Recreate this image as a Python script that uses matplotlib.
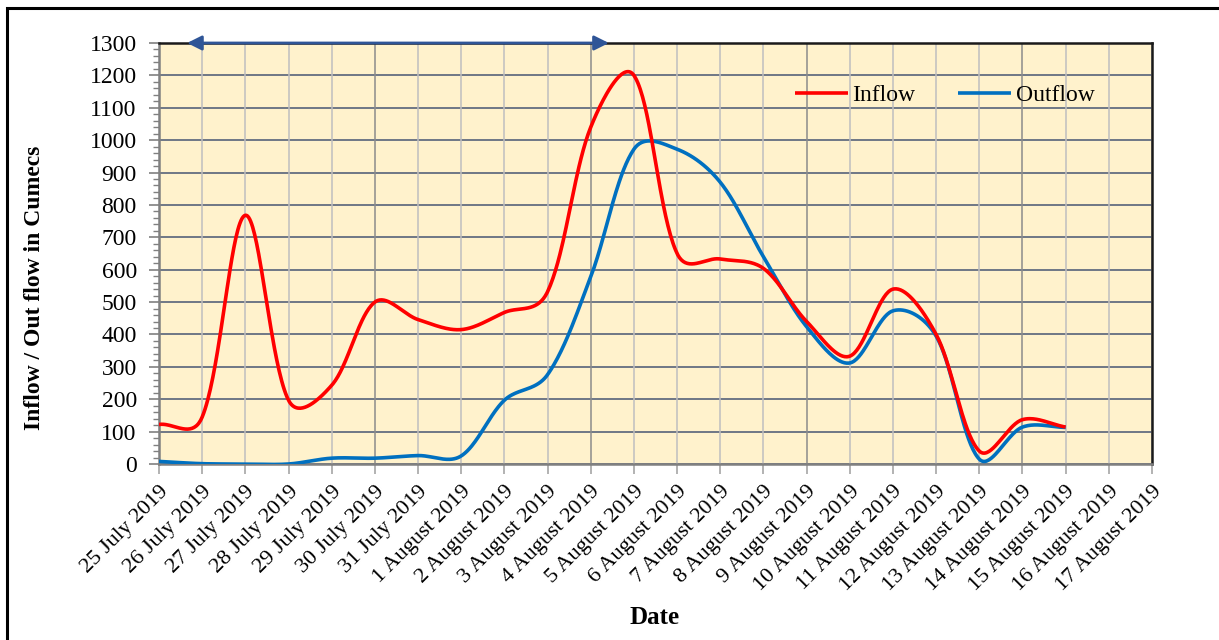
import numpy as np
import pandas as pd
import matplotlib
matplotlib.use('Agg')
import matplotlib.pyplot as plt
import matplotlib.dates as mdates
from matplotlib.ticker import MultipleLocator
from matplotlib.patches import Rectangle

plt.rcParams['font.family'] = ['Liberation Serif', 'DejaVu Serif']

# Data (daily values)
dates = pd.date_range('2019-07-25', '2019-08-15', freq='D')
inflow = [122, 145, 768, 197, 243, 500, 446, 415, 468, 532, 1040,
          1200, 650, 633, 604, 440, 333, 540, 400, 40, 137, 114]
outflow = [8, 1, 0, 0, 18, 18, 26, 25, 197, 276, 578,
           972, 972, 870, 640, 424, 312, 473, 395, 15, 114, 113]
tick_dates = pd.date_range('2019-07-25', '2019-08-17', freq='D')
tick_labels = [f'{d.day} {d:%B %Y}' for d in tick_dates]

# pixel size of one day / one cumec, used so the smoothing looks like Excel's
PX_DAY, PX_VAL = 43.17, 0.324


def smooth(vals, n=40, blend=0.5):
    # Excel-like smoothed line: Bezier segments; handles are a mix of
    # plain Catmull-Rom and chord-length scaled handles
    P = np.column_stack([np.arange(len(vals)) * PX_DAY,
                         np.asarray(vals, float) * PX_VAL])
    k = len(P)
    cin = P.copy()
    cout = P.copy()
    for i in range(k):
        if i == 0:
            cout[i] = P[0] + (P[1] - P[0]) / 3
            continue
        if i == k - 1:
            cin[i] = P[i] - (P[i] - P[i - 1]) / 3
            continue
        d = P[i + 1] - P[i - 1]
        l1 = np.hypot(*(P[i] - P[i - 1]))
        l2 = np.hypot(*(P[i + 1] - P[i]))
        f1 = blend * l1 / (l1 + l2) + (1 - blend) * 0.5
        f2 = blend * l2 / (l1 + l2) + (1 - blend) * 0.5
        cin[i] = P[i] - d / 3 * f1
        cout[i] = P[i] + d / 3 * f2
    t = np.linspace(0, 1, n)[:, None]
    segs = []
    for i in range(k - 1):
        seg = ((1 - t) ** 3 * P[i] + 3 * (1 - t) ** 2 * t * cout[i]
               + 3 * (1 - t) * t ** 2 * cin[i + 1] + t ** 3 * P[i + 1])
        segs.append(seg)
    s = np.vstack(segs)
    return s[:, 0] / PX_DAY, s[:, 1] / PX_VAL


x0 = mdates.date2num(dates[0])

fig = plt.figure(figsize=(12.19, 6.4), dpi=100)
ax = fig.add_axes([159 / 1219, 1 - 464 / 640, 993 / 1219, 421 / 640])
ax.set_facecolor('#FFF2CC')

xi, yi = smooth(inflow)
xo, yo = smooth(outflow)
ax.plot(x0 + xi, yi, color='#FF0000', lw=2.6, label='Inflow', zorder=4,
        solid_capstyle='butt')
ax.plot(x0 + xo, yo, color='#0070C0', lw=2.6, label='Outflow', zorder=3,
        solid_capstyle='butt')

ax.set_xlim(tick_dates[0], tick_dates[-1])
ax.set_ylim(0, 1300)

ax.set_xticks(tick_dates)
ax.set_xticklabels(tick_labels, rotation=45, ha='right', va='top',
                   rotation_mode='anchor', fontsize=16)
ax.yaxis.set_major_locator(MultipleLocator(100))
ax.yaxis.set_minor_locator(MultipleLocator(20))
ax.tick_params(axis='y', labelsize=17, length=7, color='#808080', width=1.2,
               pad=9)
ax.tick_params(axis='y', which='minor', length=4, color='#808080', width=1)
ax.tick_params(axis='x', length=7, color='#A6A6A6', width=1.2, pad=6)

# grid
ax.grid(axis='y', color='#56627A', lw=1.2, zorder=1)
for i, d in enumerate(tick_dates):
    c = '#8C8C8C' if i % 5 == 0 else '#BFBFBF'
    ax.axvline(d, color=c, lw=1.1, zorder=1)
ax.set_axisbelow(True)

for s in ['left', 'bottom']:
    ax.spines[s].set_color('#808080')
    ax.spines[s].set_linewidth(1.8)
for s in ['top', 'right']:
    ax.spines[s].set_color('#1A1A1A')
    ax.spines[s].set_linewidth(1.8)

# double headed arrow along the top
ax.annotate('', xy=(x0 + 10.42, 1300), xytext=(x0 + 0.65, 1300),
            arrowprops=dict(arrowstyle='<|-|>', color='#2F5597', lw=2,
                            mutation_scale=22, shrinkA=0, shrinkB=0),
            annotation_clip=False, zorder=6)

ax.legend(loc='center left', bbox_to_anchor=(0.640, 0.875), ncol=2,
          frameon=False, fontsize=17, handlelength=2.25, handletextpad=0.2,
          columnspacing=1.8, borderpad=0, borderaxespad=0)

fig.text(35 / 1219, 1 - 288 / 640, 'Inflow / Out flow in Cumecs',
         rotation=90, ha='center', va='center', fontsize=17,
         fontweight='bold')
fig.text(655 / 1219, 1 - 618 / 640, 'Date', ha='center', va='center',
         fontsize=18, fontweight='bold')

# outer frame
fig.patches.append(Rectangle((7 / 1219, -0.1), 1.2, 1 - 8 / 640 + 0.1,
                             transform=fig.transFigure, fill=False,
                             edgecolor='black', lw=2.2))

fig.savefig('out.png', dpi=100)
